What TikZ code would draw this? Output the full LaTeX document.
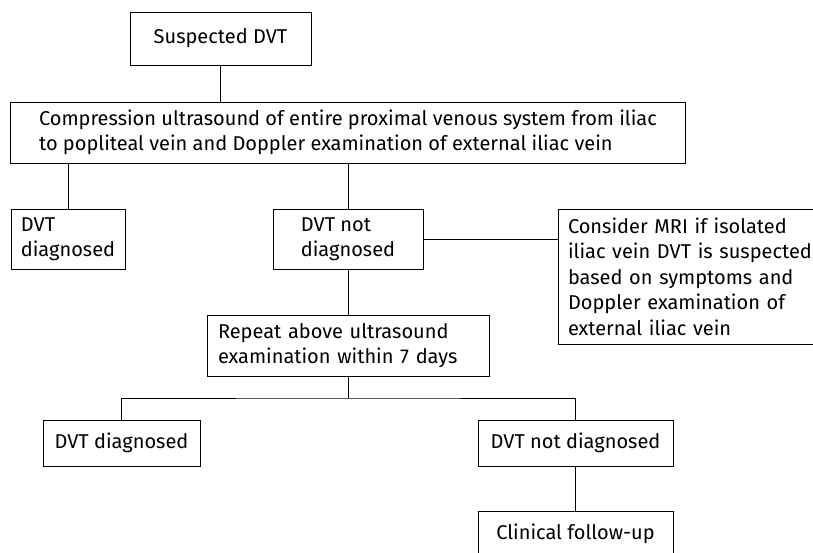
\documentclass[tikz,border=0pt]{standalone}
\usepackage{fontspec}
\setmainfont{Fira Sans}

\begin{document}
\begin{tikzpicture}[x=1pt,y=-1pt,line width=0.8pt,
  box/.style={draw,inner xsep=0pt,inner ysep=0pt,align=left,
    font=\fontsize{20}{25.5}\selectfont}]
  \clip (0,0) rectangle (813,553);
  % first row
  \node[box,minimum width=181pt,minimum height=53pt] (susp) at (220.5,38.5) {Suspected DVT};
  \node[box,minimum width=675pt,minimum height=61pt] (comp) at (348,132.5)
    {Compression ultrasound of entire proximal venous system from iliac\\
     to popliteal vein and Doppler examination of external iliac vein};
  % first result
  \node[box,minimum width=114pt,minimum height=60pt] (dxa) at (68,239) {DVT\\diagnosed};
  \node[box,minimum width=150pt,minimum height=60pt] (ndxa) at (348,239) {DVT not\\diagnosed};
  \node[box,inner xsep=10pt,text width=255pt,minimum height=135pt] (mri) at (695.5,276.5)
    {Consider MRI if isolated\\iliac vein DVT is suspected\\based on symptoms and\\
     Doppler examination of\\external iliac vein};
  \node[box,inner xsep=11pt,text width=260pt,minimum height=61pt] (rep) at (348,345.5)
    {Repeat above ultrasound\\examination within 7 days};
  % second result
  \coordinate (bar) at (348,398);
  \node[box,minimum width=157pt,minimum height=46pt] (dxb) at (121.5,443) {DVT diagnosed};
  \node[box,minimum width=195pt,minimum height=46pt] (ndxb) at (575.5,443) {DVT not diagnosed};
  \node[box,minimum width=195pt,minimum height=46pt] (fol) at (575.5,534) {Clinical follow-up};
  % connectors
  \draw (susp.south) -- (susp.south |- comp.north);
  \draw (dxa.north) -- (dxa.north |- comp.south);
  \draw (comp.south) -- (ndxa.north);
  \draw (ndxa.east) -- (ndxa.east -| mri.west);
  \draw (ndxa.south) -- (rep.north);
  \draw (rep.south) -- (bar);
  \draw (dxb.north) |- (bar) -| (ndxb.north);
  \draw (ndxb.south) -- (fol.north);
\end{tikzpicture}
\end{document}
